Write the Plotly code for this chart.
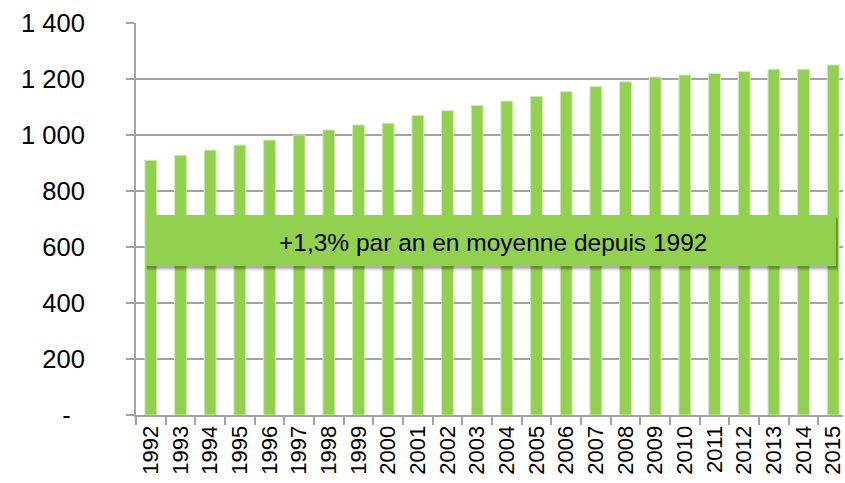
import plotly.graph_objects as go

# Annual values, 1992-2015
years = [str(y) for y in range(1992, 2016)]
values = [910, 928, 946, 964, 982, 1000, 1018, 1036, 1042, 1070, 1087, 1105,
          1121, 1138, 1155, 1173, 1190, 1207, 1214, 1220, 1227, 1235, 1235, 1250]

y_tickvals = [0, 200, 400, 600, 800, 1000, 1200, 1400]
y_ticktext = ["-\u00a0\u00a0", "200", "400", "600", "800", "1 000", "1 200", "1 400"]

banner_text = "+1,3% par an en moyenne depuis 1992"

W, H = 845, 483
M_L, M_T, M_B, M_R = 136, 23, 68, 0
PLOT_W = W - M_L - M_R
PLOT_H = H - M_T - M_B

GREEN = "#92D050"
GRID = "#a3a3a3"
FONT = "Liberation Sans, Arial, sans-serif"


def px_x(x):
    return (x - M_L) / PLOT_W


def px_y(y):
    return (H - M_B - y) / PLOT_H


fig = go.Figure(
    go.Bar(
        x=years,
        y=values,
        marker=dict(color=GREEN, line=dict(color="#d2ebb5", width=1)),
        hoverinfo="x+y",
    )
)

# Banner with a soft drop shadow
shapes = []
bx0, bx1, by0, by1 = 146, 838, 215, 266
for dx, dy, a in [(1, 5, 0.06), (1, 4, 0.08), (1, 3, 0.10), (0, 2, 0.12)]:
    shapes.append(dict(
        type="rect", xref="paper", yref="paper", layer="above",
        x0=px_x(bx0 + dx), x1=px_x(bx1 + dx + 1),
        y0=px_y(by1 + dy), y1=px_y(by0 + dy),
        fillcolor=f"rgba(0,0,0,{a})", line=dict(width=0),
    ))
shapes.append(dict(
    type="rect", xref="paper", yref="paper", layer="above",
    x0=px_x(bx0), x1=px_x(bx1), y0=px_y(by1), y1=px_y(by0),
    fillcolor=GREEN, line=dict(width=0),
))

fig.update_layout(
    width=W, height=H,
    margin=dict(l=M_L, r=M_R, t=M_T, b=M_B, pad=0),
    paper_bgcolor="white", plot_bgcolor="white",
    bargap=0.6,
    showlegend=False,
    font=dict(family=FONT, color="black"),
    shapes=shapes,
    annotations=[dict(
        xref="paper", yref="paper",
        x=px_x((bx0 + bx1) / 2 + 2.5), y=px_y((by0 + by1) / 2 + 2),
        text=banner_text, showarrow=False,
        font=dict(family=FONT, size=24.5, color="black"),
        xanchor="center", yanchor="middle",
    )],
    xaxis=dict(
        type="category",
        range=[-0.5, 23.33],
        tickangle=-90,
        tickfont=dict(family=FONT, size=22, color="black"),
        ticks="outside", ticklen=8, tickwidth=1.5, tickcolor=GRID,
        tickson="boundaries",
        showline=True, linecolor=GRID, linewidth=2,
        showgrid=False, zeroline=False,
    ),
    yaxis=dict(
        range=[0, 1400],
        tickvals=y_tickvals, ticktext=y_ticktext,
        tickfont=dict(family=FONT, size=25.5, color="black"),
        ticks="outside", ticklen=8, tickwidth=1.5, tickcolor=GRID,
        ticklabelstandoff=36,
        showline=True, linecolor=GRID, linewidth=2,
        showgrid=True, gridcolor=GRID, gridwidth=2,
        zeroline=False,
    ),
)

fig.write_html("out.html")
